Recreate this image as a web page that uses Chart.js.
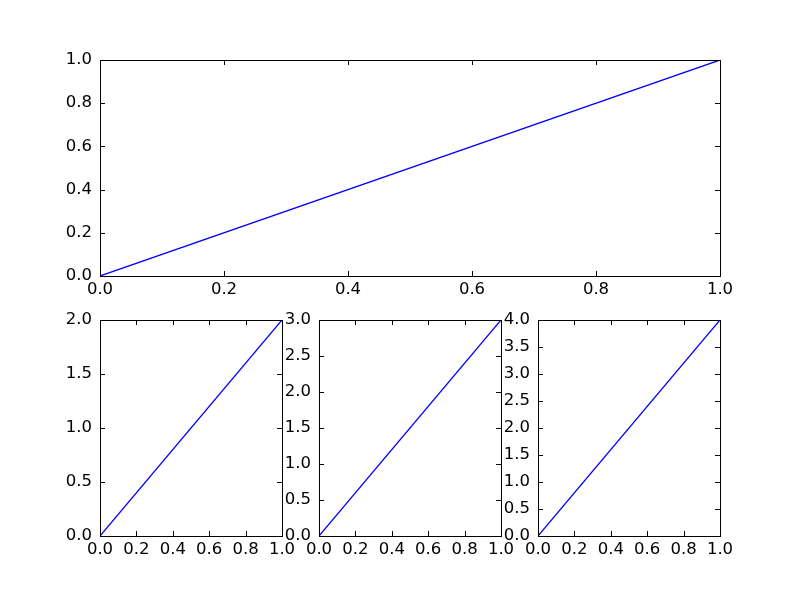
<!DOCTYPE html>
<html>
<head>
<meta charset="utf-8">
<script src="https://cdn.jsdelivr.net/npm/chart.js@4/dist/chart.umd.min.js"></script>
<style>
  html, body { margin: 0; padding: 0; background: #fff; }
  #wrap { position: relative; width: 800px; height: 596px; background: #fff; overflow: hidden; }
  canvas { position: absolute; }
</style>
</head>
<body>
<div id="wrap">
  <canvas id="c0"></canvas>
  <canvas id="c1"></canvas>
  <canvas id="c2"></canvas>
  <canvas id="c3"></canvas>
</div>
<script>
// ---- data ----
const xValues = [0, 1];
const topY = [0, 1];
const sub1Y = [0, 2];
const sub2Y = [0, 3];
const sub3Y = [0, 4];

const xTicks = [0, 0.2, 0.4, 0.6, 0.8, 1.0];
const xTickLabels = ['0.0', '0.2', '0.4', '0.6', '0.8', '1.0'];
const topYTicks = [0, 0.2, 0.4, 0.6, 0.8, 1.0];
const topYTickLabels = ['0.0', '0.2', '0.4', '0.6', '0.8', '1.0'];
const sub1YTicks = [0, 0.5, 1.0, 1.5, 2.0];
const sub1YTickLabels = ['0.0', '0.5', '1.0', '1.5', '2.0'];
const sub2YTicks = [0, 0.5, 1.0, 1.5, 2.0, 2.5, 3.0];
const sub2YTickLabels = ['0.0', '0.5', '1.0', '1.5', '2.0', '2.5', '3.0'];
const sub3YTicks = [0, 0.5, 1.0, 1.5, 2.0, 2.5, 3.0, 3.5, 4.0];
const sub3YTickLabels = ['0.0', '0.5', '1.0', '1.5', '2.0', '2.5', '3.0', '3.5', '4.0'];

// ---- layout ----
const PAD_L = 50, PAD_T = 12, PAD_R = 16, PAD_B = 32;
const FONT = { family: '"DejaVu Sans", sans-serif', size: 16.5 };

const framePlugin = {
  id: 'frame',
  afterDraw(chart) {
    const ctx = chart.ctx;
    const a = chart.chartArea;
    const xs = chart.scales.x, ys = chart.scales.y;
    const T = 5;
    ctx.save();
    ctx.strokeStyle = '#000';
    ctx.lineWidth = 1;
    ctx.beginPath();
    xs.ticks.forEach(t => {
      const px = Math.round(xs.getPixelForValue(t.value)) + 0.5;
      ctx.moveTo(px, a.bottom); ctx.lineTo(px, a.bottom - T);
      ctx.moveTo(px, a.top); ctx.lineTo(px, a.top + T);
    });
    ys.ticks.forEach(t => {
      const py = Math.round(ys.getPixelForValue(t.value)) + 0.5;
      ctx.moveTo(a.left, py); ctx.lineTo(a.left + T, py);
      ctx.moveTo(a.right, py); ctx.lineTo(a.right - T, py);
    });
    ctx.stroke();
    ctx.strokeRect(Math.round(a.left) + 0.5, Math.round(a.top) + 0.5,
                   Math.round(a.right - a.left), Math.round(a.bottom - a.top));
    ctx.restore();
  }
};

function makeChart(id, rect, yData, yTicks, yLabels) {
  const cv = document.getElementById(id);
  const W = rect.width + PAD_L + PAD_R;
  const H = rect.height + PAD_T + PAD_B;
  cv.width = W; cv.height = H;
  cv.style.width = W + 'px'; cv.style.height = H + 'px';
  cv.style.left = (rect.left - PAD_L) + 'px';
  cv.style.top = (rect.top - PAD_T) + 'px';
  const pts = xValues.map((x, i) => ({ x: x, y: yData[i] }));
  return new Chart(cv, {
    type: 'line',
    data: { datasets: [{ data: pts, borderColor: '#0000ff', borderWidth: 1.3, pointRadius: 0, fill: false, tension: 0 }] },
    options: {
      responsive: false, animation: false, devicePixelRatio: 1,
      layout: { padding: { left: 0, top: PAD_T, right: PAD_R, bottom: 0 } },
      plugins: { legend: { display: false }, tooltip: { enabled: false } },
      scales: {
        x: {
          type: 'linear', min: xTicks[0], max: xTicks[xTicks.length - 1],
          grid: { display: false, drawTicks: false }, border: { display: false },
          afterBuildTicks: s => { s.ticks = xTicks.map(v => ({ value: v })); },
          afterFit: s => { s.height = PAD_B; s.paddingLeft = 0; s.paddingRight = 0; },
          ticks: { autoSkip: false, maxRotation: 0, padding: 4, color: '#000', font: FONT,
                   callback: (v, i) => xTickLabels[i] }
        },
        y: {
          type: 'linear', min: yTicks[0], max: yTicks[yTicks.length - 1],
          grid: { display: false, drawTicks: false }, border: { display: false },
          afterBuildTicks: s => { s.ticks = yTicks.map(v => ({ value: v })); },
          afterFit: s => { s.width = PAD_L; s.paddingTop = 0; s.paddingBottom = 0; },
          ticks: { autoSkip: false, padding: 8, color: '#000', font: FONT,
                   callback: (v, i) => yLabels[i] }
        }
      }
    },
    plugins: [framePlugin]
  });
}

makeChart('c0', { left: 100, top: 60, width: 620, height: 216 }, topY, topYTicks, topYTickLabels);
makeChart('c1', { left: 100, top: 320, width: 182, height: 216 }, sub1Y, sub1YTicks, sub1YTickLabels);
makeChart('c2', { left: 319, top: 320, width: 182, height: 216 }, sub2Y, sub2YTicks, sub2YTickLabels);
makeChart('c3', { left: 538, top: 320, width: 182, height: 216 }, sub3Y, sub3YTicks, sub3YTickLabels);
</script>
</body>
</html>
